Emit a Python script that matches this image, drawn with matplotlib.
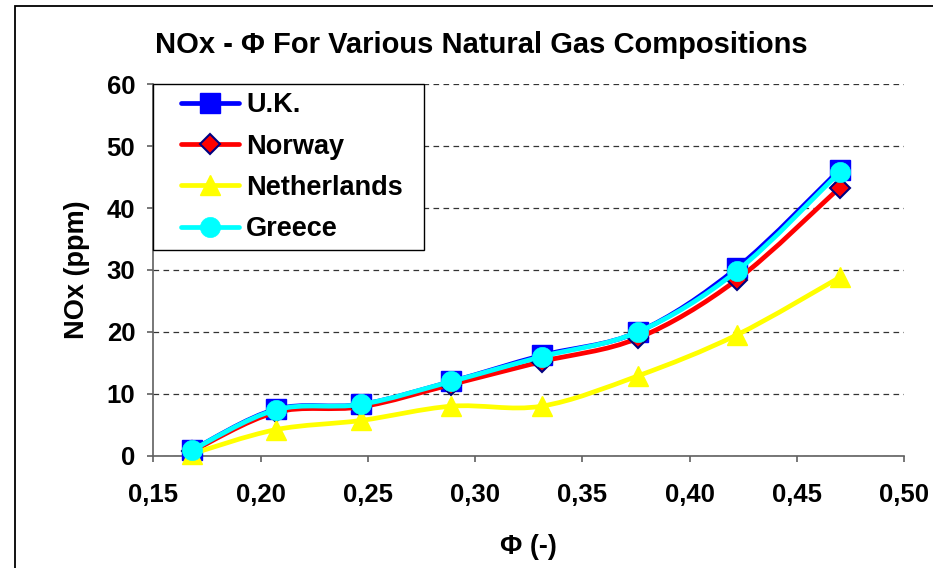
import numpy as np
import matplotlib
matplotlib.use("Agg")
import matplotlib.pyplot as plt
from matplotlib.path import Path
from matplotlib.patches import PathPatch, Rectangle
from matplotlib.lines import Line2D

plt.rcParams["font.family"] = ["Liberation Sans", "DejaVu Sans"]
plt.rcParams["font.weight"] = "bold"

# equivalence ratio and NOx emissions (ppm) for each gas composition
phi = [0.168, 0.207, 0.247, 0.289, 0.331, 0.376, 0.422, 0.470]
nox_uk = [0.9, 7.5, 8.3, 12.0, 16.2, 20.0, 30.3, 46.2]
nox_norway = [0.7, 7.0, 7.9, 11.5, 15.2, 19.0, 28.4, 43.3]
nox_netherlands = [0.3, 4.2, 5.7, 8.0, 8.0, 12.9, 19.5, 28.8]
nox_greece = [0.9, 7.4, 8.3, 12.0, 16.0, 20.0, 29.8, 45.8]

series_names = ["U.K.", "Norway", "Netherlands", "Greece"]
series_values = [nox_uk, nox_norway, nox_netherlands, nox_greece]


def smooth_path(x, y):
    # smoothed line through the points (Bezier segments, like spreadsheet "smoothed line")
    pts = np.column_stack([x, y]).astype(float)
    ext = np.vstack([pts[0], pts, pts[-1]])
    verts = [pts[0]]
    codes = [Path.MOVETO]
    for i in range(len(pts) - 1):
        p0, p1, p2, p3 = ext[i], ext[i + 1], ext[i + 2], ext[i + 3]
        verts += [p1 + (p2 - p0) / 6, p2 - (p3 - p1) / 6, p2]
        codes += [Path.CURVE4] * 3
    return Path(verts, codes)


styles = [
    dict(color="#0000FF", marker="s", ms=14.5, mfc="#0000FF", mec="#0000FF", mew=1),
    dict(color="#FF0000", marker="D", ms=10.5, mfc="#FF0000", mec="#000080", mew=1.5),
    dict(color="#FFFF00", marker="^", ms=15, mfc="#FFFF00", mec="#FFFF00", mew=1),
    dict(color="#00FFFF", marker="o", ms=14.5, mfc="#00FFFF", mec="#00FFFF", mew=0.5),
]

fig = plt.figure(figsize=(9.33, 5.68), dpi=100)
ax = fig.add_axes([0.1643, 0.1977, 0.8046, 0.6539])

handles = []
for k, (name, vals, st) in enumerate(zip(series_names, series_values, styles)):
    ax.add_patch(PathPatch(smooth_path(phi, vals), fill=False, edgecolor=st["color"],
                           lw=3.4, capstyle="round", joinstyle="round", zorder=3 + k))
    ax.plot(phi, vals, ls="none", marker=st["marker"], ms=st["ms"], mfc=st["mfc"],
            mec=st["mec"], mew=st["mew"], zorder=3 + k, clip_on=False)
    handles.append(Line2D([], [], color=st["color"], lw=3.4, marker=st["marker"],
                          ms=st["ms"], mfc=st["mfc"], mec=st["mec"], mew=st["mew"],
                          solid_capstyle="round"))

ax.set_xlim(0.15, 0.50)
ax.set_ylim(0, 60)
ax.set_xticks(np.arange(0.15, 0.501, 0.05))
ax.set_xticklabels([f"{v:.2f}".replace(".", ",") for v in np.arange(0.15, 0.501, 0.05)])
ax.set_yticks(range(0, 61, 10))

ax.yaxis.grid(True, color="#333333", linestyle=(0, (4.5, 3.5)), lw=0.9)
ax.set_axisbelow(True)
for side in ["top", "right"]:
    ax.spines[side].set_visible(False)
for side in ["left", "bottom"]:
    ax.spines[side].set_color("#606060")
    ax.spines[side].set_linewidth(1.2)
ax.tick_params(axis="both", direction="out", length=4, width=1.2, color="#606060",
               labelsize=18.5)
ax.tick_params(axis="x", pad=16)
ax.tick_params(axis="y", pad=9)

ax.set_xlabel("Φ (-)", fontsize=19.5, fontweight="bold", labelpad=19)
ax.set_ylabel("NOx (ppm)", fontsize=19.5, fontweight="bold", labelpad=12)

# legend box in the upper left corner of the plot area
ax.add_patch(Rectangle((0, 0.554), 0.36, 0.446, transform=ax.transAxes, facecolor="white",
                       edgecolor="black", lw=1.0, zorder=9, clip_on=False))
leg = ax.legend(handles, series_names, loc="upper left", bbox_to_anchor=(0.037, 0.979),
                borderaxespad=0, borderpad=0, frameon=False,
                prop=dict(size=19.5, weight="bold"), handlelength=2.14,
                labelspacing=0.57, handletextpad=0.26)
leg.set_zorder(10)

fig.text(0.5155, 1 - 53 / 568, "NOx - Φ For Various Natural Gas Compositions",
         ha="center", va="baseline", fontsize=21, fontweight="bold")

# chart area border
fig.patches.append(Rectangle((15 / 933, -0.1), 2, 1.1 - 6 / 568, fill=False,
                             edgecolor="black", lw=1.3, transform=fig.transFigure,
                             clip_on=False))

fig.savefig("out.png", dpi=100)
